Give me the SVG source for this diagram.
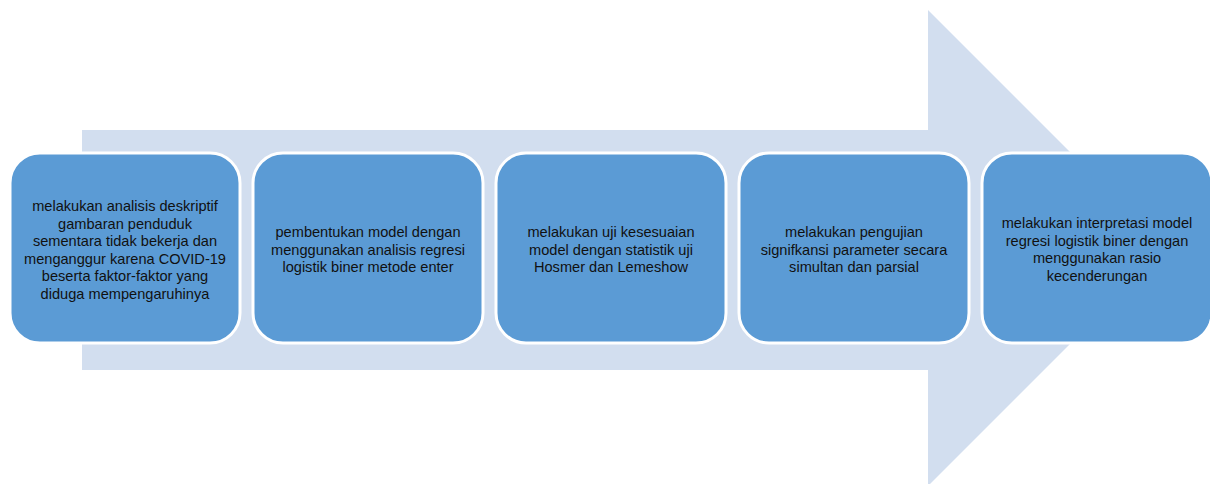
<svg xmlns="http://www.w3.org/2000/svg" width="1210" height="484" viewBox="0 0 1210 484">
<style>
.box{fill:#5B9BD5;stroke:#FFFFFF;stroke-width:3}
.t{font-family:"Liberation Sans",Arial,sans-serif;font-size:14.6px;fill:#111111;text-anchor:middle}
</style>
<rect width="1210" height="484" fill="#FFFFFF"/>
<g id="arrow">
<polygon points="82,130 928,130 928,10 1166,248 928,486 928,370 82,370" fill="#D2DEEF"/>
</g>
<g id="connectors"></g>
<g id="node1">
<rect class="box" x="10" y="153" width="230" height="190" rx="30"/>
<text class="t" x="125" y="211">melakukan analisis deskriptif</text>
<text class="t" x="125" y="228.5">gambaran penduduk</text>
<text class="t" x="125" y="246">sementara tidak bekerja dan</text>
<text class="t" x="125" y="263.5">menganggur karena COVID-19</text>
<text class="t" x="125" y="281">beserta faktor-faktor yang</text>
<text class="t" x="125" y="298.5">diduga mempengaruhinya</text>
</g>
<g id="node2">
<rect class="box" x="253" y="153" width="230" height="190" rx="30"/>
<text class="t" x="368" y="237">pembentukan model dengan</text>
<text class="t" x="368" y="254.5">menggunakan analisis regresi</text>
<text class="t" x="368" y="272">logistik biner metode enter</text>
</g>
<g id="node3">
<rect class="box" x="496" y="153" width="230" height="190" rx="30"/>
<text class="t" x="611" y="237">melakukan uji kesesuaian</text>
<text class="t" x="611" y="254.5">model dengan statistik uji</text>
<text class="t" x="611" y="272">Hosmer dan Lemeshow</text>
</g>
<g id="node4">
<rect class="box" x="739" y="153" width="230" height="190" rx="30"/>
<text class="t" x="854" y="237">melakukan pengujian</text>
<text class="t" x="854" y="254.5">signifkansi parameter secara</text>
<text class="t" x="854" y="272">simultan dan parsial</text>
</g>
<g id="node5">
<rect class="box" x="982" y="153" width="230" height="190" rx="30"/>
<text class="t" x="1097" y="228">melakukan interpretasi model</text>
<text class="t" x="1097" y="245.5">regresi logistik biner dengan</text>
<text class="t" x="1097" y="263">menggunakan rasio</text>
<text class="t" x="1097" y="280.5">kecenderungan</text>
</g>
</svg>
